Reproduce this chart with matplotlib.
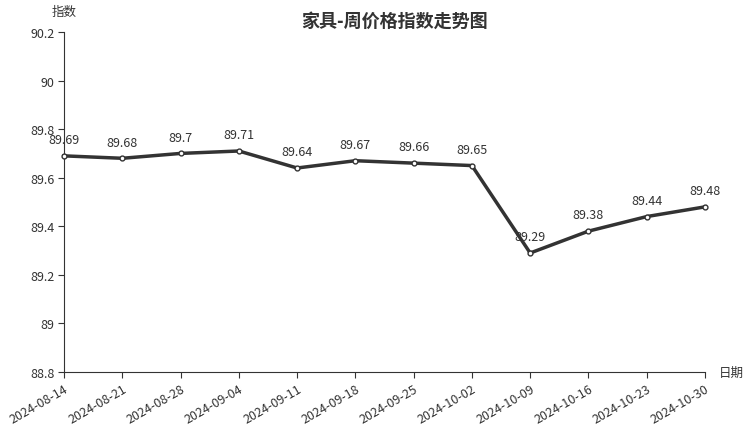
import matplotlib
matplotlib.use("Agg")
import matplotlib.pyplot as plt

plt.rcParams['font.family'] = ['Noto Sans CJK SC', 'DejaVu Sans']

dates = ['2024-08-14', '2024-08-21', '2024-08-28', '2024-09-04', '2024-09-11', '2024-09-18',
         '2024-09-25', '2024-10-02', '2024-10-09', '2024-10-16', '2024-10-23', '2024-10-30']
values = [89.69, 89.68, 89.7, 89.71, 89.64, 89.67, 89.66, 89.65, 89.29, 89.38, 89.44, 89.48]
yticks = [88.8, 89, 89.2, 89.4, 89.6, 89.8, 90, 90.2]
ytick_labels = ['88.8', '89', '89.2', '89.4', '89.6', '89.8', '90', '90.2']

fig = plt.figure(figsize=(7.52, 4.27), dpi=100)
ax = fig.add_axes([64 / 752, 1 - 373 / 427, 641 / 752, 340 / 427])

x = list(range(len(dates)))
ax.plot(x, values, color='#333333', lw=2.5, marker='o', ms=3.5,
        mfc='white', mec='#333333', mew=1, zorder=3, clip_on=False)
for xi, v in zip(x, values):
    ax.annotate(f'{v:g}', (xi, v), xytext=(0, 7), textcoords='offset points',
                ha='center', va='bottom', fontsize=9, color='#333333')

ax.set_xlim(0, len(dates) - 1)
ax.set_ylim(88.8, 90.2)
ax.set_yticks(yticks)
ax.set_yticklabels(ytick_labels, fontsize=9, color='#333333')
ax.set_xticks(x)
ax.set_xticklabels(dates, rotation=30, ha='right', rotation_mode='anchor',
                   fontsize=9, color='#333333')

for s in ['top', 'right']:
    ax.spines[s].set_visible(False)
for s in ['left', 'bottom']:
    ax.spines[s].set_color('#333333')
ax.tick_params(direction='out', length=4, color='#333333', pad=3)

fig.text(64 / 752, 1 - 12 / 427, '指数', ha='center', va='center', fontsize=9, color='#333333')
fig.text(731 / 752, 1 - 373 / 427, '日期', ha='center', va='center', fontsize=9, color='#333333')
fig.text(394 / 752, 1 - 21 / 427, '家具-周价格指数走势图', ha='center', va='center',
         fontsize=13, fontweight='bold', color='#333333')

fig.savefig('out.png', dpi=100)
